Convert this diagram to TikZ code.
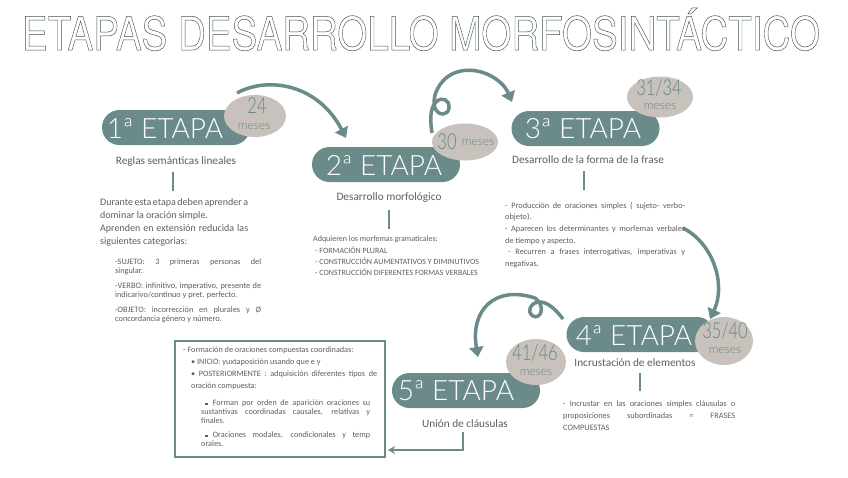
\documentclass[tikz,border=0pt]{standalone}
\usepackage{fontspec}
\usepackage{graphicx}
\setmainfont{Carlito}
\newfontfamily\stagefont{Lato Light}
\newfontfamily\titlefont{TeX Gyre Heros}
\usetikzlibrary{arrows.meta,shapes.geometric}
\definecolor{tealc}{HTML}{6A8B89}
\definecolor{ellc}{HTML}{C8C1BC}
\definecolor{ellt}{HTML}{6A8583}
\definecolor{txtc}{HTML}{5E5E5E}
\definecolor{ttlc}{HTML}{465454}
\tikzset{
 pill/.style={fill=tealc, rounded corners=17.5pt, minimum width=148pt, minimum height=35pt, inner sep=0pt},
 pilltxt/.style={text=white, font=\stagefont\fontsize{28}{28}\selectfont, inner sep=0pt},
 ell/.style={ellipse, fill=ellc, inner sep=0pt},
 numtxt/.style={text=ellt, inner sep=0pt, font=\stagefont\fontsize{22}{22}\selectfont},
 mestxt/.style={text=ellt, inner sep=0pt, font=\stagefont\fontsize{12}{12}\selectfont},
 subt/.style={text=txtc, inner sep=0pt, font=\fontsize{11.3}{13}\selectfont},
 body/.style={text=txtc, inner sep=0pt, anchor=north west, align=left},
 vline/.style={draw=tealc, line width=2pt},
 arr/.style={draw=tealc, line width=3.5pt, -{Triangle[length=10pt,width=14pt]}},
 thinarr/.style={draw=tealc, line width=2pt, -{Stealth[length=7pt,width=8pt]}},
 framebox/.style={draw=tealc, line width=2pt, inner sep=0pt},
}
\newcommand\sqbul{\rule[0.8pt]{2.6pt}{2.6pt}}
\begin{document}
\begin{tikzpicture}[x=1pt,y=-1pt]
\useasboundingbox (0,0) rectangle (848,477);
\fill[white] (0,0) rectangle (848,477);

% title
\node[inner sep=0pt, anchor=base, text=ttlc] (title) at (421,50)
 {\resizebox{798pt}{\height}{\titlefont\fontsize{46}{46}\selectfont\special{pdf:literal direct 1 Tr 0.5 w}ETAPAS DESARROLLO MORFOSINTÁCTICO\special{pdf:literal direct 0 Tr}}};

% arrow coordinates
\coordinate (a1s) at (237,93);
\coordinate (a1e) at (346,138);
\coordinate (a2s) at (432,133);
\coordinate (a2e) at (512,102);
\coordinate (a3s) at (683,228);
\coordinate (a3e) at (710,319);
\coordinate (a4s) at (563,319);
\coordinate (a4e) at (478,357);

\draw[arr] (a1s) .. controls (268,76) and (318,84) .. (a1e);
\draw[arr] (a2s) .. controls (430,120) and (430,108) .. (436,102)
  .. controls (442,96) and (450,100) .. (449,108)
  .. controls (448,116) and (438,116) .. (435,108)
  .. controls (431,96) and (440,80) .. (452,74)
  .. controls (475,63) and (502,78) .. (a2e);
\draw[arr] (a3s) .. controls (714,244) and (726,285) .. (a3e);
\draw[arr] (a4s) .. controls (556,310) and (549,303) .. (541,302)
  .. controls (531,301) and (526,312) .. (533,316)
  .. controls (541,320) and (546,306) .. (535,298)
  .. controls (495,285) and (470,310) .. (a4e);

% pills
\node[pill] (s1) at (176,127.5) {};
\node[pill] (s2) at (386,164.5) {};
\node[pill] (s3) at (585.5,128.5) {};
\node[pill] (s4) at (640.5,334.5) {};
\node[pill] (s5) at (466,390.5) {};
\node[pilltxt] (p1) at (165,128) {1ª ETAPA};
\node[pilltxt] (p2) at (384,165) {2ª ETAPA};
\node[pilltxt] (p3) at (583,129) {3ª ETAPA};
\node[pilltxt] (p4) at (634,335) {4ª ETAPA};
\node[pilltxt] (p5) at (456,391) {5ª ETAPA};

% ellipses
\node[ell, minimum width=62pt, minimum height=42pt] (e1) at (255,116) {};
\node[ell, minimum width=66pt, minimum height=37pt] (e2) at (465,142) {};
\node[ell, minimum width=66pt, minimum height=41pt] (e3) at (660,97) {};
\node[ell, minimum width=58pt, minimum height=48pt] (e4) at (724,341) {};
\node[ell, minimum width=60pt, minimum height=46pt] (e5) at (536,362) {};
\node[numtxt] (n1) at (257,106) {\scalebox{0.75}[1]{24}};
\node[mestxt] (m1) at (254,127) {meses};
\node[numtxt] (n2) at (447,142) {\scalebox{0.75}[1]{30}};
\node[mestxt] (m2) at (478,143) {meses};
\node[numtxt] (n3) at (659,88) {\scalebox{0.75}[1]{31/34}};
\node[mestxt] (m3) at (660,107) {meses};
\node[numtxt] (n4) at (725,331) {\scalebox{0.75}[1]{35/40}};
\node[mestxt] (m4) at (725,351) {meses};
\node[numtxt] (n5) at (535,353) {\scalebox{0.75}[1]{41/46}};
\node[mestxt] (m5) at (536,373) {meses};

% subtitles
\node[subt] (t1) at (176,162) {Reglas semánticas lineales};
\node[subt] (t2) at (389,198) {Desarrollo morfológico};
\node[subt] (t3) at (588,160) {Desarrollo de la forma de la frase};
\node[subt] (t4) at (635,363) {Incrustación de elementos};
\node[subt] (t5) at (465,424) {Unión de cláusulas};

% vertical lines
\coordinate (v1a) at (173,172); \coordinate (v1b) at (173,191);
\coordinate (v2a) at (389,210); \coordinate (v2b) at (389,229);
\coordinate (v3a) at (584,171); \coordinate (v3b) at (584,190);
\coordinate (v4a) at (640,373); \coordinate (v4b) at (640,391);
\coordinate (v5a) at (463,432); \coordinate (v5b) at (463,450);
\coordinate (v5c) at (388,450);
\draw[vline] (v1a) -- (v1b);
\draw[vline] (v2a) -- (v2b);
\draw[vline] (v3a) -- (v3b);
\draw[vline] (v4a) -- (v4b);
\draw[thinarr] (v5a) -- (v5b) -- (v5c);

% text blocks
\node[body, font=\fontsize{10}{13}\selectfont] (b1) at (100,198)
 {\makebox[148pt][s]{Durante esta etapa deben aprender a}\\
  dominar la oración simple.\\
  \makebox[148pt][s]{Aprenden en extensión reducida las}\\
  siguientes categorias:};
\node[body, font=\fontsize{8.3}{9}\selectfont] (b1b) at (115,259)
 {\makebox[146pt][s]{-SUJETO: 3 primeras personas del}\\
  singular.\\[6pt]
  \makebox[146pt][s]{-VERBO: infinitivo, imperativo, presente de}\\
  indicarivo/continuo y pret. perfecto.\\[6pt]
  \makebox[146pt][s]{-OBJETO: incorrección en plurales y Ø}\\
  concordancia género y número.};
\node[body, font=\fontsize{8}{11.3}\selectfont] (b2) at (313,236)
 {Adquieren los morfemas gramaticales:\\
  \hspace*{2pt}- FORMACIÓN PLURAL\\
  \hspace*{2pt}- CONSTRUCCIÓN AUMENTATIVOS Y DIMINUTIVOS\\
  \hspace*{2pt}- CONSTRUCCIÓN DIFERENTES FORMAS VERBALES};
\node[body, font=\fontsize{8.3}{11.6}\selectfont] (b3) at (505,202)
 {\makebox[180pt][s]{- Producción de oraciones simples ( sujeto- verbo-}\\
  objeto).\\
  \makebox[180pt][s]{- Aparecen los determinantes y morfemas verbales}\\
  de tiempo y aspecto.\\
  \makebox[180pt][s]{\hspace*{3pt}- Recurren a frases interrogativas, imperativas y}\\
  negativas.};
\node[body, font=\fontsize{8.3}{12}\selectfont] (b4) at (563,401)
 {\makebox[172pt][s]{- Incrustar en las oraciones simples cláusulas o}\\
  \makebox[172pt][s]{proposiciones subordinadas = FRASES}\\
  COMPUESTAS};

% box
\node[framebox, minimum width=210pt, minimum height=116pt, anchor=north west] (box) at (174,340) {};
\node[body, font=\fontsize{8.2}{12}\selectfont] (bx1) at (183,347)
 {- Formación de oraciones compuestas coordinadas:\\
  \hspace*{8pt}• INICIO: yuxtaposición usando que e y\\
  \makebox[194pt][s]{\hspace*{8pt}• POSTERIORMENTE : adquisición diferentes tipos de}\\
  \hspace*{8pt}oración compuesta:};
\node[body, font=\fontsize{8.2}{8.6}\selectfont] (bx2) at (201,400)
 {\makebox[169pt][s]{\hspace*{4pt}\sqbul\hspace*{5pt}Forman por orden de aparición oraciones su}\\
  \makebox[169pt][s]{sustantivas coordinadas causales, relativas y}\\
  finales.};
\node[body, font=\fontsize{8.2}{8.6}\selectfont] (bx3) at (201,432)
 {\makebox[169pt][s]{\hspace*{4pt}\sqbul\hspace*{5pt}Oraciones modales, condicionales y temp}\\
  orales.};
\end{tikzpicture}
\end{document}
